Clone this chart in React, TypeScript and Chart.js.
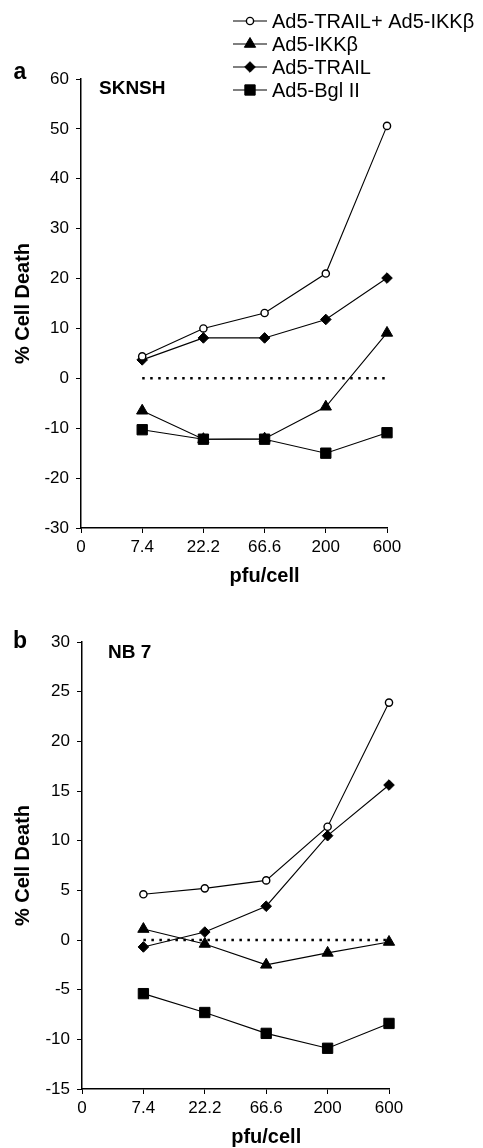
import React, { useEffect, useRef } from 'react';
import { Chart, registerables } from 'chart.js';

Chart.register(...registerables);

const FAM = '"Liberation Sans", Arial, Helvetica, sans-serif';

// x axis: categories placed at index positions 1..5, "0" at the origin
const xTickLabels = ['0', '7.4', '22.2', '66.6', '200', '600'];
const doseIndex = [1, 2, 3, 4, 5];
const seriesNames = ['Ad5-TRAIL+ Ad5-IKKβ', 'Ad5-IKKβ', 'Ad5-TRAIL', 'Ad5-Bgl II'];

// Panel a: SKNSH (% cell death)
const sknshTrailIkk = [4.4, 10.0, 13.1, 21.0, 50.6];
const sknshIkk = [-6.5, -12.2, -12.1, -5.7, 9.1];
const sknshTrail = [3.7, 8.1, 8.1, 11.8, 20.1];
const sknshBgl = [-10.3, -12.2, -12.2, -15.0, -10.9];

// Panel b: NB 7 (% cell death)
const nb7TrailIkk = [4.6, 5.2, 6.0, 11.4, 23.9];
const nb7Ikk = [1.1, -0.4, -2.5, -1.3, -0.2];
const nb7Trail = [-0.7, 0.8, 3.4, 10.5, 15.6];
const nb7Bgl = [-5.4, -7.3, -9.4, -10.9, -8.4];

// dotted reference line
const zeroLine = [0, 0, 0, 0, 0];

type MarkerStyle = { style: 'circle' | 'triangle' | 'rectRot' | 'rect'; radius: number; fill: string; bw: number };
const markers: MarkerStyle[] = [
  { style: 'circle', radius: 3.6, fill: '#ffffff', bw: 1.4 },
  { style: 'triangle', radius: 6.5, fill: '#000000', bw: 1 },
  { style: 'rectRot', radius: 5.3, fill: '#000000', bw: 1 },
  { style: 'rect', radius: 7.3, fill: '#000000', bw: 1 },
];

type PanelCfg = {
  top: number;
  height: number;
  letter: string;
  letterDy: number;
  cellLine: string;
  cellX: number;
  cellDy: number;
  series: number[][];
  yMin: number;
  yMax: number;
  yStep: number;
  padTop: number;
  padRight: number;
  yAxisW: number;
  xAxisH: number;
  legend: boolean;
};

function drawMarker(ctx: CanvasRenderingContext2D, m: MarkerStyle, x: number, y: number) {
  ctx.beginPath();
  const r = m.radius;
  if (m.style === 'circle') {
    ctx.arc(x, y, r, 0, Math.PI * 2);
  } else if (m.style === 'triangle') {
    ctx.moveTo(x, y - r);
    ctx.lineTo(x + r * Math.sin((2 * Math.PI) / 3), y - r * Math.cos((2 * Math.PI) / 3));
    ctx.lineTo(x + r * Math.sin((4 * Math.PI) / 3), y - r * Math.cos((4 * Math.PI) / 3));
  } else if (m.style === 'rectRot') {
    ctx.moveTo(x, y - r);
    ctx.lineTo(x + r, y);
    ctx.lineTo(x, y + r);
    ctx.lineTo(x - r, y);
  } else {
    const s = r * Math.SQRT1_2;
    ctx.rect(x - s, y - s, 2 * s, 2 * s);
  }
  ctx.closePath();
  ctx.fillStyle = m.fill;
  ctx.fill();
  ctx.lineWidth = m.bw;
  ctx.strokeStyle = '#000';
  ctx.stroke();
}

function Panel({ cfg }: { cfg: PanelCfg }) {
  const ref = useRef<HTMLCanvasElement | null>(null);

  useEffect(() => {
    if (!ref.current) return;

    const annot = {
      id: 'annot',
      afterDraw(chart: any) {
        const ctx: CanvasRenderingContext2D = chart.ctx;
        const area = chart.chartArea;
        const xs = chart.scales.x;
        ctx.save();
        ctx.fillStyle = '#000';
        ctx.textBaseline = 'middle';
        ctx.textAlign = 'center';
        ctx.font = `bold 23px ${FAM}`;
        ctx.fillText(cfg.letter, 20, area.top + cfg.letterDy);
        ctx.textAlign = 'left';
        ctx.font = `bold 19px ${FAM}`;
        ctx.fillText(cfg.cellLine, cfg.cellX, area.top + cfg.cellDy);
        ctx.textAlign = 'center';
        ctx.font = `bold 20px ${FAM}`;
        ctx.fillText('pfu/cell', xs.getPixelForValue(3), area.bottom + 48.5);

        if (cfg.legend) {
          const rows = [21, 44, 67, 90];
          ctx.font = `20px ${FAM}`;
          ctx.textAlign = 'left';
          seriesNames.forEach((name, i) => {
            const y = rows[i];
            ctx.beginPath();
            ctx.moveTo(233, y);
            ctx.lineTo(267, y);
            ctx.lineWidth = 1.2;
            ctx.strokeStyle = '#000';
            ctx.stroke();
            drawMarker(ctx, markers[i], 250, y);
            ctx.fillStyle = '#000';
            ctx.fillText(name, 272, y + 1);
          });
        }
        ctx.restore();
      },
    };

    const tickFont = { family: FAM, size: 17 };

    const datasets: any[] = cfg.series.map((vals, i) => ({
      label: seriesNames[i],
      data: vals.map((v, j) => ({ x: doseIndex[j], y: v })),
      borderColor: '#000',
      borderWidth: 1.1,
      backgroundColor: markers[i].fill,
      pointStyle: markers[i].style,
      pointRadius: markers[i].radius,
      pointBackgroundColor: markers[i].fill,
      pointBorderColor: '#000',
      pointBorderWidth: markers[i].bw,
      tension: 0,
      fill: false,
      clip: false,
    }));
    datasets.push({
      label: 'zero',
      data: zeroLine.map((v, j) => ({ x: doseIndex[j], y: v })),
      borderColor: '#000',
      borderWidth: 2.5,
      borderDash: [2.5, 5.5],
      pointRadius: 0,
      fill: false,
      clip: false,
      order: 10,
    });

    const chart = new Chart(ref.current, {
      type: 'line',
      data: { datasets },
      options: {
        animation: false,
        responsive: true,
        maintainAspectRatio: false,
        events: [],
        layout: { padding: { left: 0, right: cfg.padRight, top: cfg.padTop, bottom: 0 } },
        plugins: { legend: { display: false }, tooltip: { enabled: false } },
        scales: {
          x: {
            type: 'linear',
            min: 0,
            max: 5,
            ticks: {
              stepSize: 1,
              autoSkip: false,
              maxRotation: 0,
              padding: 4,
              color: '#000',
              font: tickFont,
              callback: (v: any) => xTickLabels[Number(v)] ?? '',
            },
            grid: { drawOnChartArea: false, drawTicks: true, tickLength: 5, color: '#000', lineWidth: 1 },
            border: { color: '#000', width: 1.5 },
            afterFit: (s: any) => {
              s.height = cfg.xAxisH;
            },
          },
          y: {
            type: 'linear',
            min: cfg.yMin,
            max: cfg.yMax,
            ticks: { stepSize: cfg.yStep, padding: 7, color: '#000', font: tickFont },
            grid: { drawOnChartArea: false, drawTicks: true, tickLength: 5, color: '#000', lineWidth: 1 },
            border: { color: '#000', width: 1.5 },
            title: {
              display: true,
              text: '% Cell Death',
              color: '#000',
              font: { family: FAM, size: 20, weight: 'bold' },
              padding: { top: 11, bottom: 0 },
            },
            afterFit: (s: any) => {
              s.width = cfg.yAxisW;
            },
          },
        },
      },
      plugins: [annot],
    } as any);

    return () => chart.destroy();
  }, [cfg]);

  return (
    <div style={{ position: 'absolute', left: 0, top: cfg.top, width: 483, height: cfg.height }}>
      <canvas ref={ref} />
    </div>
  );
}

const panelA: PanelCfg = {
  top: 0,
  height: 590,
  letter: 'a',
  letterDy: -6,
  cellLine: 'SKNSH',
  cellX: 99,
  cellDy: 10,
  series: [sknshTrailIkk, sknshIkk, sknshTrail, sknshBgl],
  yMin: -30,
  yMax: 60,
  yStep: 10,
  padTop: 79,
  padRight: 96,
  yAxisW: 81,
  xAxisH: 62,
  legend: true,
};

const panelB: PanelCfg = {
  top: 590,
  height: 558,
  letter: 'b',
  letterDy: 0,
  cellLine: 'NB 7',
  cellX: 108,
  cellDy: 11,
  series: [nb7TrailIkk, nb7Ikk, nb7Trail, nb7Bgl],
  yMin: -15,
  yMax: 30,
  yStep: 5,
  padTop: 52,
  padRight: 94,
  yAxisW: 82,
  xAxisH: 59,
  legend: false,
};

export default function App() {
  return (
    <div style={{ position: 'absolute', left: 0, top: 0, width: 483, height: 1148, background: '#fff', overflow: 'hidden' }}>
      <Panel cfg={panelA} />
      <Panel cfg={panelB} />
    </div>
  );
}
